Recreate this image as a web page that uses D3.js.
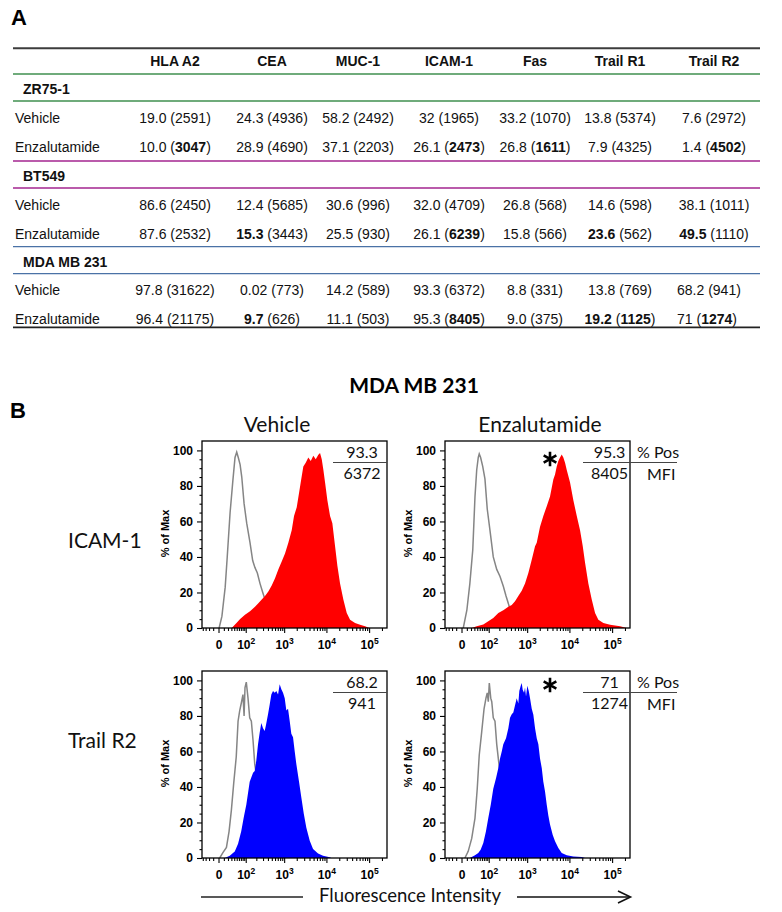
<!DOCTYPE html>
<html><head><meta charset="utf-8">
<script src="https://cdn.jsdelivr.net/npm/d3@7/dist/d3.min.js"></script>
<style>body{margin:0;background:#fff}svg{display:block}</style>
</head><body>
<svg id="chart" width="782" height="912"></svg>
<script>
// ---------------- DATA ----------------
const markers = ["HLA A2","CEA","MUC-1","ICAM-1","Fas","Trail R1","Trail R2"];
const cellLines = ["ZR75-1","BT549","MDA MB 231"];
const treatments = ["Vehicle","Enzalutamide"];
// % positive (as printed) per treatment x marker
const pctZR75  = [["19.0","24.3","58.2","32","33.2","13.8","7.6"],["10.0","28.9","37.1","26.1","26.8","7.9","1.4"]];
const mfiZR75  = [[2591,4936,2492,1965,1070,5374,2972],[3047,4690,2203,2473,1611,4325,4502]];
const pctBT549 = [["86.6","12.4","30.6","32.0","26.8","14.6","38.1"],["87.6","15.3","25.5","26.1","15.8","23.6","49.5"]];
const mfiBT549 = [[2450,5685,996,4709,568,598,1011],[2532,3443,930,6239,566,562,1110]];
const pctMDA   = [["97.8","0.02","14.2","93.3","8.8","13.8","68.2"],["96.4","9.7","11.1","95.3","9.0","19.2","71"]];
const mfiMDA   = [[31622,773,589,6372,331,769,941],[21175,626,503,8405,375,1125,1274]];
// bold (significant) entries: [cellLine, treatment, marker]
const boldPct = [[1,1,1],[1,1,5],[1,1,6],[2,1,1],[2,1,5]];
const boldMfi = [[0,1,0],[0,1,3],[0,1,4],[0,1,6],[1,1,3],[2,1,3],[2,1,5],[2,1,6]];

// Panel B histograms: [fluorescence intensity, % of max]
const icamVehIso = [[1,0],[6,6.5],[13,23],[18,40],[26,65],[35,83],[43,96],[50,99],[57,96],[66,92],[75,85],[89,70],[107,59],[134,48],[159,38],[184,34],[213,31],[251,25],[295,20],[337,16],[451,9],[600,4],[795,1],[1049,0]];
const icamVehPos = [[31,0],[50,3],[66,5],[95,7.5],[134,9.4],[184,12],[226,14],[278,16],[337,18],[409,20.6],[497,24],[600,28],[722,33],[873,37.5],[1049,42],[1260,48],[1517,55],[1722,63],[1998,68],[2265,76],[2526,83],[2862,91],[3262,93],[3757,96],[4280,94],[4930,97],[5613,95],[6462,97.5],[7085,98.5],[7770,95],[8490,89],[9300,82],[10530,72],[12180,63],[13780,59],[15960,46],[18070,35],[20880,25],[24940,16],[29950,8.4],[35800,4.7],[46900,2.8],[61400,1.9],[80400,1],[101400,0]];
const icamEnzIso = [[3,0],[10,10],[17,25],[25,44],[32,74],[38,89],[44,96],[48,98],[54,96],[64,91],[76,84],[90,67],[109,55],[136,40],[170,33],[209,29],[255,23.5],[300,18],[364,12],[506,6],[672,2],[975,0]];
const icamEnzPos = [[22,0],[38,1],[67,2],[97,3.8],[136,5.6],[188,8.5],[255,10],[344,12],[419,13],[506,15],[610,18],[739,21],[888,25],[1068,31],[1288,38.5],[1545,46],[1695,48],[2030,57],[2430,63],[2928,68.6],[3500,74],[4188,83.6],[4595,86.5],[5037,91],[5496,94],[6024,96],[6600,97.7],[7200,96],[7900,93],[8660,89],[10350,82],[12370,72],[14880,63],[17760,55],[20550,46],[23270,36.7],[27780,25],[33370,16],[39900,8.5],[47640,4.7],[62400,2.8],[89550,1.9],[153600,1],[220000,0]];
const tr2VehIso = [[2,0],[8,3],[16,6],[23,15],[30,27],[38,42],[48,57],[56,77],[64,83],[72,87],[82,92],[89,80],[95,96],[104,99],[117,90],[131,79],[146,77],[163,66],[181,53],[246,35],[358,18],[535,8],[780,2],[1128,0]];
const tr2VehPos = [[12,0],[25,1.3],[42,3.7],[56,8],[72,15],[87,23],[104,30],[131,43],[163,48],[181,49],[200,55],[222,64],[246,70.6],[271,76],[300,73],[331,71.5],[358,75],[402,81],[443,86.5],[486,92],[535,94],[590,93],[645,94],[711,92],[780,97.8],[855,95],[939,93],[1032,90],[1128,83],[1239,84],[1361,77],[1485,70],[1631,68],[1790,60],[1953,53],[2265,43],[2568,34],[2928,25],[3372,17],[4056,9.7],[4850,5],[6360,2.6],[8330,1.3],[11960,0.4],[13070,0]];
const tr2EnzIso = [[6,0],[13,3.75],[22,11],[32,22.5],[40,39],[48,58],[59,71],[71,84],[82,90],[90,93],[97,88],[104,98.5],[115,90],[123,88],[136,79],[152,77],[170,64],[188,56],[200,51],[255,35],[379,16],[557,6],[807,1.5],[1173,0]];
const tr2EnzPos = [[17,0],[32,1.5],[44,2.8],[54,4.7],[67,8.4],[82,15],[97,22.5],[115,30],[136,39],[163,45],[188,50.7],[209,56],[232,60],[255,64],[300,67.5],[344,73],[379,79],[419,81],[459,82],[506,86],[557,90],[610,87],[645,94],[699,97],[739,98.5],[780,94.7],[840,93],[888,96],[939,91],[1009,97],[1092,94],[1173,90],[1288,84],[1408,80.7],[1545,73],[1695,67.5],[1852,64],[2030,56],[2230,50.7],[2430,43],[2667,37.5],[2928,30],[3192,24],[3500,18.8],[4056,13],[4595,9.4],[5496,5.6],[6600,2.8],[8660,1.5],[12370,0.9],[19440,0.5],[23270,0]];

const xTickValues = [0,100,1000,10000,100000];
const xTickExp = ["","2","3","4","5"];
const xMinorTicks = [-40,-30,-20,-10,10,20,30,40,50,60,70,80,90,200,300,400,500,600,700,800,900,2000,3000,4000,5000,6000,7000,8000,9000,20000,30000,40000,50000,60000,70000,80000,90000,200000];
const yTickValues = [0,20,40,60,80,100];
const yMinorTicks = [5,10,15,25,30,35,45,50,55,65,70,75,85,90,95];

// ---------------- LAYOUT ----------------
const svg = d3.select("#chart");
const TF = "'Liberation Sans', Arial, sans-serif";
const CF = "Lato, 'Open Sans', sans-serif";

// ===== Panel A : table =====
svg.append("text").attr("x",11).attr("y",25).text("A")
  .attr("font-family",TF).attr("font-weight","bold").attr("font-size",22);

const tblL = 13, tblR = 760;
const colX = d3.scaleOrdinal().domain(markers).range([175,272,358,449,535,620,714]);
const lineColors = ["#3f8f4f","#a3258f","#4a72a6"];
const headerY = 66;
const blockTop = [74,161,246.7];       // first colored rule of each block
const blockRows = {label:20, r1:48.5, r2:77.5, rule2:27};

function rule(y,color,w){
  svg.append("line").attr("x1",tblL).attr("x2",tblR).attr("y1",y).attr("y2",y)
    .attr("stroke",color).attr("stroke-width",w);
}
rule(48.3,"#3c3c3c",2);
svg.append("g").selectAll("text").data(markers).join("text")
  .attr("x",d=>colX(d)).attr("y",headerY).attr("text-anchor","middle")
  .attr("font-family",TF).attr("font-size",14).attr("font-weight","bold").attr("fill","#111").text(d=>d);

const pctAll = [pctZR75,pctBT549,pctMDA];
const mfiAll = [mfiZR75,mfiBT549,mfiMDA];
const isBold = (arr,l,t,c)=>arr.some(b=>b[0]===l&&b[1]===t&&b[2]===c);

cellLines.forEach((cl,li)=>{
  const y0 = blockTop[li];
  rule(y0,lineColors[li],1.3);
  rule(y0+blockRows.rule2,lineColors[li],1.3);
  svg.append("text").attr("x",23).attr("y",y0+blockRows.label).text(cl)
    .attr("font-family",TF).attr("font-size",14).attr("font-weight","bold").attr("fill","#111");
  treatments.forEach((tr,ti)=>{
    const ry = y0 + (ti===0?blockRows.r1:blockRows.r2);
    svg.append("text").attr("x",15).attr("y",ry).text(tr)
      .attr("font-family",TF).attr("font-size",14).attr("fill","#111");
    markers.forEach((m,ci)=>{
      // last column of the last block is left-aligned in the original
      const leftAl = (ci===6 && li===2);
      const t = svg.append("text").attr("x",leftAl?677:colX(m)).attr("y",ry)
        .attr("text-anchor",leftAl?"start":"middle")
        .attr("font-family",TF).attr("font-size",14).attr("fill","#111");
      t.append("tspan").attr("font-weight",isBold(boldPct,li,ti,ci)?"bold":"normal").text(pctAll[li][ti][ci]);
      t.append("tspan").text(" (");
      t.append("tspan").attr("font-weight",isBold(boldMfi,li,ti,ci)?"bold":"normal").text(mfiAll[li][ti][ci]);
      t.append("tspan").text(")");
    });
  });
});
rule(327.3,"#222",1.8);

// ===== Panel B : histograms =====
svg.append("text").attr("x",10).attr("y",418).text("B")
  .attr("font-family",TF).attr("font-weight","bold").attr("font-size",22);
svg.append("text").attr("x",414).attr("y",393).attr("text-anchor","middle").text("MDA MB 231")
  .attr("font-family",CF).attr("font-weight","bold").attr("font-size",21);

[["Vehicle",277],["Enzalutamide",540]].forEach(([t,xx])=>{
  svg.append("text").attr("x",xx).attr("y",432).attr("text-anchor","middle").text(t)
    .attr("font-family",CF).attr("font-size",21).attr("fill","#111");
});
[["ICAM-1",548],["Trail R2",748]].forEach(([t,yy])=>{
  svg.append("text").attr("x",68).attr("y",yy).text(t)
    .attr("font-family",CF).attr("font-size",21).attr("fill","#111");
});

const PW = 185, PH = 187;
const x = d3.scaleSymlog().constant(30).domain([-43,262144]).range([0,PW]);
const y = d3.scaleLinear().domain([0,105.3]).range([PH,0]);

const panels = [
  {left:202, top:441, iso:icamVehIso, pos:icamVehPos, color:"#ff0000", pct:pctMDA[0][3], mfi:mfiMDA[0][3], star:false, legend:false},
  {left:445, top:441, iso:icamEnzIso, pos:icamEnzPos, color:"#ff0000", pct:pctMDA[1][3], mfi:mfiMDA[1][3], star:true, legend:true, starX:6700},
  {left:202, top:671, iso:tr2VehIso,  pos:tr2VehPos,  color:"#0000ff", pct:pctMDA[0][6], mfi:mfiMDA[0][6], star:false, legend:false},
  {left:445, top:671, iso:tr2EnzIso,  pos:tr2EnzPos,  color:"#0000ff", pct:pctMDA[1][6], mfi:mfiMDA[1][6], star:true, legend:true, starX:6700}
];

const area = d3.area().x(d=>x(d[0])).y0(y(0)).y1(d=>y(d[1]));
const line = d3.line().x(d=>x(d[0])).y(d=>y(d[1]));

panels.forEach((p,i)=>{
  const g = svg.append("g").attr("transform",`translate(${p.left},${p.top})`);
  const cid = "clip"+i;
  g.append("clipPath").attr("id",cid).append("rect").attr("width",PW).attr("height",PH);
  const pg = g.append("g").attr("clip-path",`url(#${cid})`);
  pg.append("path").attr("d",line(p.iso)).attr("fill","none").attr("stroke","#858585").attr("stroke-width",1.5);
  pg.append("path").attr("d",area(p.pos)).attr("fill",p.color);

  // y axis
  const ya = g.append("g").call(d3.axisLeft(y).tickValues(yTickValues).tickSize(5).tickPadding(4));
  const ym = g.append("g").call(d3.axisLeft(y).tickValues(yMinorTicks).tickSize(2.5).tickFormat(""));
  [ya,ym].forEach(a=>{a.select(".domain").remove(); a.selectAll("line").attr("stroke","#000").attr("stroke-width",1.1);});
  ya.selectAll("text").attr("font-family",TF).attr("font-weight","bold").attr("font-size",12).attr("fill","#000");

  // x axis
  const xa = g.append("g").attr("transform",`translate(0,${PH})`)
    .call(d3.axisBottom(x).tickValues(xTickValues).tickSize(5).tickFormat(d=>d===0?"0":"10"));
  const xm = g.append("g").attr("transform",`translate(0,${PH})`)
    .call(d3.axisBottom(x).tickValues(xMinorTicks).tickSize(3).tickFormat(""));
  [xa,xm].forEach(a=>{a.select(".domain").remove(); a.selectAll("line").attr("stroke","#000").attr("stroke-width",1.1);});
  xa.selectAll("text").attr("font-family",TF).attr("font-weight","bold").attr("font-size",12).attr("fill","#000")
    .attr("dy",null).attr("y",21)
    .each(function(d,k){
      if(xTickExp[k]) d3.select(this).append("tspan").attr("font-size",8.5).attr("dy",-5.5).text(xTickExp[k]);
    });

  // frame
  g.append("rect").attr("width",PW).attr("height",PH).attr("fill","none").attr("stroke","#000").attr("stroke-width",1.3);

  // y label
  g.append("text").attr("transform",`translate(-33,${PH/2-1}) rotate(-90)`).attr("text-anchor","middle")
    .attr("font-family",TF).attr("font-weight","bold").attr("font-size",11).text("% of Max");

  // annotation
  const cx = i%2===0 ? 160 : 164.5;
  g.append("text").attr("x",cx).attr("y",16.5).attr("text-anchor","middle").text(p.pct)
    .attr("font-family",CF).attr("font-size",16).attr("fill","#111");
  g.append("text").attr("x",cx).attr("y",37.5).attr("text-anchor","middle").text(p.mfi)
    .attr("font-family",CF).attr("font-size",16).attr("fill","#111");
  g.append("line").attr("x1",i%2===0?131:138).attr("x2",i%2===0?PW:232).attr("y1",21.5).attr("y2",21.5)
    .attr("stroke","#444").attr("stroke-width",1);
  if(p.legend){
    g.append("text").attr("x",192).attr("y",16.5).text("% Pos").attr("font-family",CF).attr("font-size",16).attr("fill","#111");
    g.append("text").attr("x",202).attr("y",38.5).text("MFI").attr("font-family",CF).attr("font-size",16).attr("fill","#111");
  }
  if(p.star){
    g.append("path").attr("d",d3.symbol(d3.symbolAsterisk,150)())
      .attr("transform",`translate(${x(p.starX)-12},${i<2?18:14})`)
      .attr("fill","none").attr("stroke","#000").attr("stroke-width",2.6);
  }
});

// x axis title with arrow
const ay = 897;
svg.append("line").attr("x1",201).attr("x2",303).attr("y1",ay).attr("y2",ay).attr("stroke","#222").attr("stroke-width",1.3);
svg.append("text").attr("x",410).attr("y",902).attr("text-anchor","middle").text("Fluorescence Intensity")
  .attr("font-family",CF).attr("font-size",18.5).attr("fill","#111");
svg.append("line").attr("x1",517).attr("x2",630).attr("y1",ay).attr("y2",ay).attr("stroke","#111").attr("stroke-width",1.5);
svg.append("path").attr("d",`M618,${ay-6}L630.5,${ay}L618,${ay+6}`).attr("fill","none").attr("stroke","#111").attr("stroke-width",1.6);
</script>
</body></html>
